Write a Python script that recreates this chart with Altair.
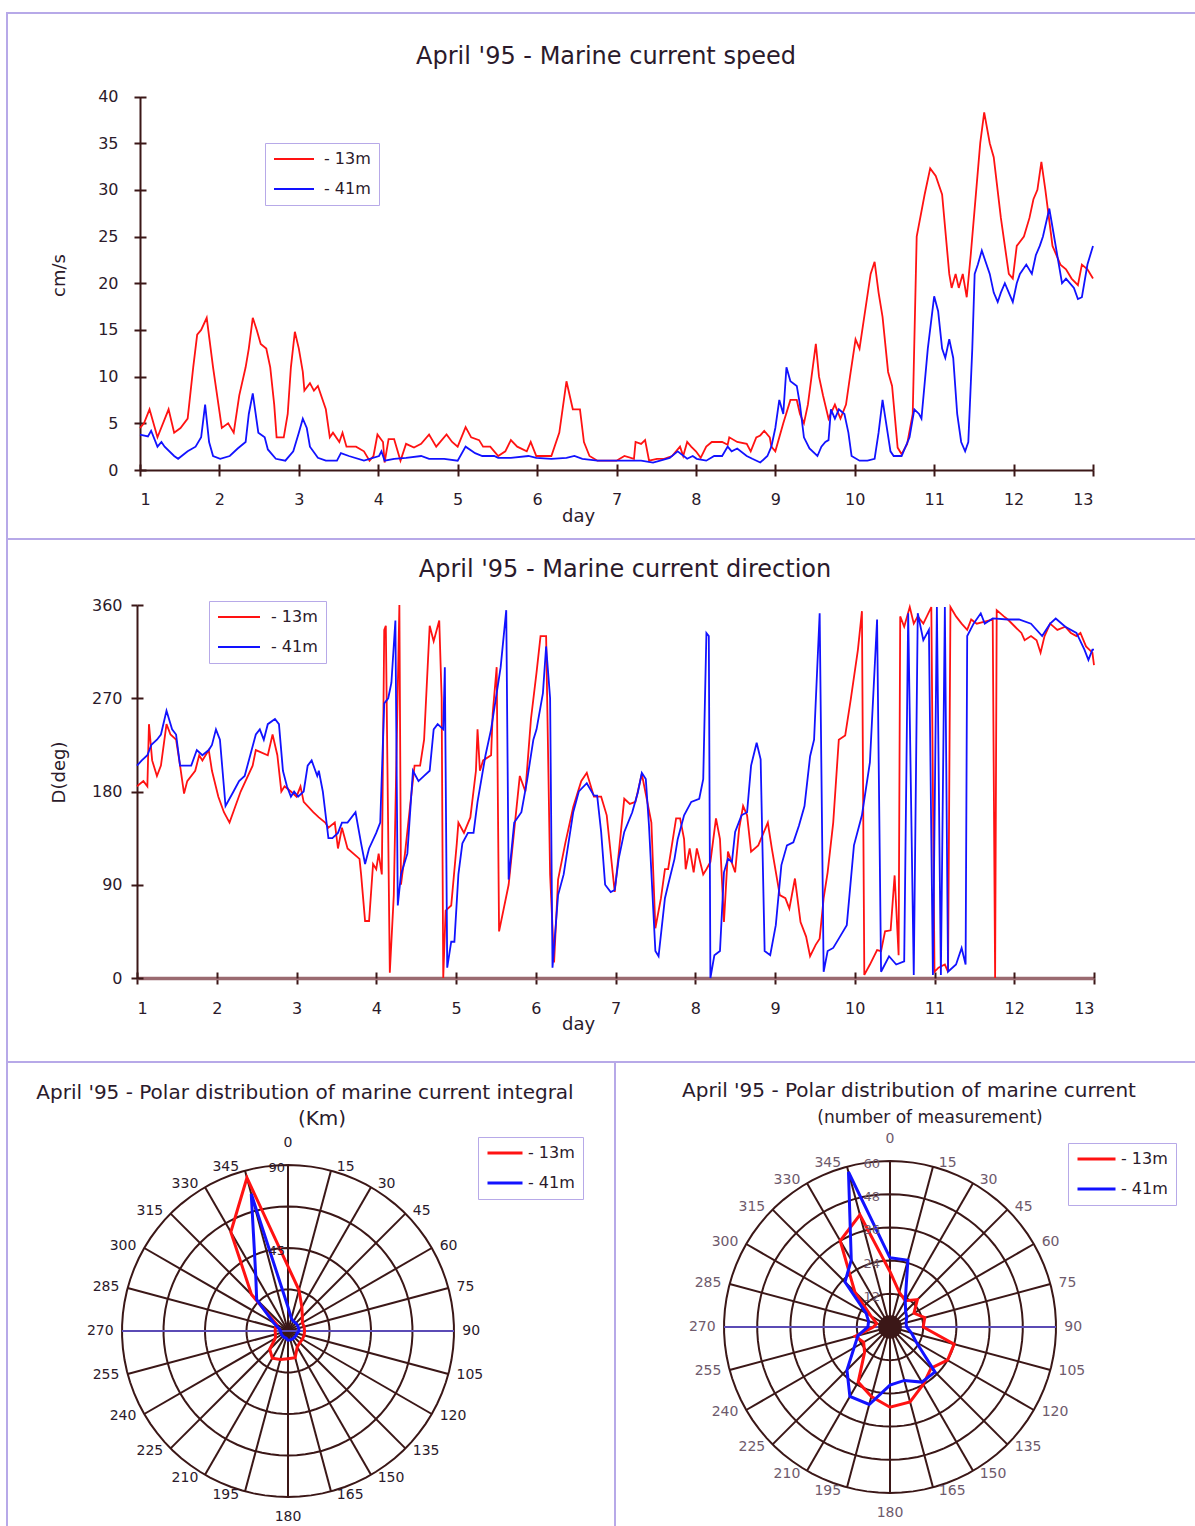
import math
import altair as alt
import pandas as pd

W, H = 1195, 1526
FONT = "DejaVu Sans"
RED, BLUE = "#ff1212", "#1212ff"
INK = "#2b1a2b"
SOFT_INK = "#6e5a6c"
GRID = "#3b1717"
AXIS_BAND = "#9a6a70"
FRAME = "#b7a9e8"
HORIZON = "#5b4bb5"
SERIES = ["- 13m", "- 41m"]

# ---------------- current speed (cm/s) ----------------
SPEED_13M_DAY = [1.00, 1.05, 1.12, 1.17, 1.22, 1.36, 1.43, 1.51, 1.60, 1.67,
                 1.72, 1.77, 1.84, 1.92, 2.03, 2.11, 2.18, 2.25, 2.33, 2.37,
                 2.42, 2.47, 2.52, 2.59, 2.64, 2.69, 2.72, 2.81, 2.86, 2.90,
                 2.95, 3.00, 3.05, 3.07, 3.14, 3.19, 3.24, 3.34, 3.39, 3.43,
                 3.51, 3.55, 3.60, 3.72, 3.82, 3.89, 3.94, 3.99, 4.06, 4.08,
                 4.13, 4.20, 4.28, 4.35, 4.45, 4.54, 4.64, 4.73, 4.86, 4.93,
                 5.00, 5.10, 5.17, 5.27, 5.32, 5.41, 5.46, 5.51, 5.60, 5.67,
                 5.75, 5.87, 5.92, 5.99, 6.08, 6.18, 6.28, 6.37, 6.45, 6.54,
                 6.59, 6.66, 6.76, 7.00, 7.10, 7.22, 7.24, 7.31, 7.36, 7.41,
                 7.51, 7.60, 7.70, 7.80, 7.84, 7.89, 7.94, 8.00, 8.06, 8.13,
                 8.20, 8.33, 8.40, 8.42, 8.52, 8.64, 8.69, 8.76, 8.81, 8.86,
                 8.93, 8.95, 9.00, 9.10, 9.19, 9.27, 9.31, 9.36, 9.41, 9.51,
                 9.55, 9.60, 9.67, 9.75, 9.82, 9.89, 9.94, 10.01, 10.06, 10.20,
                 10.25, 10.30, 10.35, 10.42, 10.47, 10.54, 10.59, 10.66, 10.73, 10.78,
                 10.88, 10.95, 11.02, 11.10, 11.19, 11.22, 11.27, 11.31, 11.36, 11.41,
                 11.46, 11.51, 11.58, 11.63, 11.70, 11.75, 11.84, 11.94, 11.99, 12.04,
                 12.13, 12.20, 12.25, 12.30, 12.35, 12.40, 12.49, 12.59, 12.66, 12.73,
                 12.81, 12.86, 12.93, 13.00]
SPEED_13M = [4.5, 5.0, 6.5, 5.0, 3.5, 6.5, 4.0, 4.5, 5.5, 11.0,
             14.5, 15.0, 16.3, 11.0, 4.5, 5.0, 4.0, 8.0, 11.0, 13.0,
             16.3, 15.0, 13.5, 13.0, 11.0, 7.0, 3.5, 3.5, 6.0, 11.0,
             14.8, 13.0, 10.5, 8.5, 9.3, 8.5, 9.0, 6.5, 3.5, 4.0,
             3.0, 4.0, 2.5, 2.5, 2.0, 1.0, 1.5, 3.8, 3.0, 0.8,
             3.3, 3.3, 1.0, 2.8, 2.4, 2.8, 3.8, 2.5, 3.8, 3.0,
             2.5, 4.6, 3.5, 3.2, 2.5, 2.5, 2.0, 1.5, 2.0, 3.2,
             2.5, 2.0, 3.0, 1.5, 1.5, 1.5, 4.0, 9.5, 6.5, 6.5,
             3.0, 1.5, 1.0, 1.0, 1.5, 1.2, 3.0, 2.8, 3.2, 1.0,
             1.2, 1.2, 1.5, 2.5, 1.5, 3.0, 2.5, 2.0, 1.3, 2.5,
             3.0, 3.0, 2.7, 3.5, 3.0, 2.8, 2.0, 3.5, 3.7, 4.2,
             3.5, 2.5, 2.0, 5.0, 7.5, 7.5, 6.0, 5.0, 7.0, 13.5,
             10.0, 8.0, 5.5, 7.0, 5.5, 7.0, 10.0, 14.0, 13.0, 21.0,
             22.3, 19.0, 16.4, 10.5, 9.0, 2.4, 1.7, 2.8, 6.0, 25.0,
             29.5, 32.3, 31.5, 29.5, 21.0, 19.5, 21.0, 19.5, 21.0, 18.5,
             23.0, 28.0, 35.0, 38.3, 35.0, 33.5, 27.0, 21.0, 20.5, 24.0,
             25.0, 27.0, 29.0, 30.0, 33.0, 30.0, 24.0, 22.0, 21.5, 20.5,
             19.8, 22.0, 21.5, 20.5]

SPEED_41M_DAY = [1.00, 1.10, 1.14, 1.22, 1.27, 1.31, 1.43, 1.48, 1.60, 1.70,
                 1.77, 1.82, 1.87, 1.92, 2.01, 2.13, 2.23, 2.33, 2.37, 2.42,
                 2.49, 2.57, 2.61, 2.71, 2.83, 2.93, 3.00, 3.05, 3.10, 3.14,
                 3.24, 3.34, 3.48, 3.53, 3.63, 3.82, 4.01, 4.04, 4.08, 4.20,
                 4.35, 4.54, 4.64, 4.83, 5.00, 5.10, 5.22, 5.31, 5.46, 5.51,
                 5.67, 5.89, 5.99, 6.18, 6.37, 6.47, 6.57, 6.76, 7.00, 7.31,
                 7.46, 7.55, 7.67, 7.77, 7.89, 7.96, 8.01, 8.13, 8.23, 8.33,
                 8.40, 8.45, 8.52, 8.64, 8.71, 8.81, 8.90, 8.95, 9.00, 9.05,
                 9.10, 9.14, 9.19, 9.27, 9.31, 9.36, 9.43, 9.53, 9.58, 9.63,
                 9.67, 9.70, 9.75, 9.80, 9.87, 9.92, 9.96, 10.06, 10.16, 10.25,
                 10.30, 10.35, 10.45, 10.49, 10.59, 10.69, 10.75, 10.81, 10.84, 10.92,
                 11.00, 11.05, 11.10, 11.14, 11.19, 11.24, 11.29, 11.34, 11.39, 11.43,
                 11.48, 11.51, 11.55, 11.60, 11.70, 11.75, 11.80, 11.84, 11.89, 11.94,
                 11.99, 12.04, 12.08, 12.16, 12.23, 12.28, 12.33, 12.37, 12.45, 12.49,
                 12.57, 12.61, 12.66, 12.76, 12.81, 12.86, 12.93, 13.00]
SPEED_41M = [3.8, 3.6, 4.2, 2.5, 3.0, 2.5, 1.5, 1.2, 2.0, 2.5,
             3.5, 7.0, 3.0, 1.5, 1.2, 1.5, 2.3, 3.0, 6.0, 8.2,
             4.0, 3.5, 2.2, 1.2, 1.0, 2.0, 4.0, 5.5, 4.5, 2.5,
             1.3, 1.0, 1.0, 1.8, 1.5, 1.0, 1.5, 2.0, 1.0, 1.2,
             1.3, 1.5, 1.2, 1.2, 1.0, 2.5, 1.8, 1.5, 1.5, 1.3,
             1.3, 1.5, 1.3, 1.2, 1.3, 1.5, 1.2, 1.0, 1.0, 1.0,
             0.8, 1.0, 1.3, 2.0, 1.2, 1.5, 1.2, 1.0, 1.5, 1.5,
             2.5, 2.0, 2.3, 1.5, 1.2, 0.8, 1.5, 2.5, 4.5, 7.5,
             6.0, 11.0, 9.5, 9.0, 7.0, 3.5, 2.3, 1.5, 2.5, 3.0,
             3.2, 6.5, 5.5, 6.5, 6.0, 4.0, 1.5, 1.0, 1.0, 1.2,
             4.0, 7.5, 2.0, 1.5, 1.5, 3.5, 6.5, 6.0, 5.5, 13.0,
             18.6, 17.0, 13.0, 12.0, 14.0, 12.0, 6.0, 3.0, 2.0, 3.0,
             13.0, 21.0, 22.0, 23.5, 21.0, 19.0, 18.0, 19.0, 20.0, 19.0,
             18.0, 20.0, 21.0, 22.0, 21.0, 23.0, 24.0, 25.0, 28.0, 26.0,
             22.0, 20.0, 20.5, 19.5, 18.3, 18.5, 22.0, 24.0]

# ---------------- current direction (deg), (day, direction) ----------------
DIR_13M = [(1.00, 185), (1.08, 190), (1.13, 185), (1.15, 245), (1.19, 210), (1.25, 195),
           (1.30, 205), (1.37, 245), (1.42, 235), (1.49, 230), (1.54, 205), (1.59, 178),
           (1.63, 190), (1.73, 200), (1.78, 215), (1.82, 210), (1.90, 220), (1.94, 200),
           (2.02, 175), (2.09, 160), (2.16, 150), (2.23, 165), (2.30, 180), (2.45, 205),
           (2.49, 220), (2.64, 215), (2.70, 235), (2.76, 215), (2.81, 180), (2.85, 185),
           (2.93, 180), (3.00, 175), (3.05, 185), (3.09, 170), (3.21, 160), (3.28, 155),
           (3.36, 150), (3.40, 145), (3.48, 150), (3.52, 125), (3.57, 145), (3.64, 125),
           (3.79, 115), (3.81, 100), (3.86, 55), (3.91, 55), (3.96, 110), (4.00, 105),
           (4.03, 120), (4.07, 100), (4.10, 336), (4.12, 340), (4.17, 5), (4.22, 80),
           (4.29, 360), (4.31, 90), (4.36, 120), (4.43, 170), (4.48, 205), (4.55, 205),
           (4.60, 230), (4.67, 340), (4.72, 325), (4.79, 345), (4.82, 270), (4.84, 0),
           (4.87, 65), (4.94, 70), (5.01, 130), (5.03, 150), (5.10, 140), (5.18, 155),
           (5.25, 200), (5.27, 240), (5.30, 200), (5.34, 210), (5.44, 215), (5.46, 255),
           (5.51, 300), (5.54, 45), (5.66, 90), (5.70, 120), (5.80, 195), (5.87, 180),
           (5.94, 250), (6.01, 295), (6.06, 330), (6.13, 330), (6.18, 100), (6.23, 15),
           (6.28, 95), (6.37, 130), (6.47, 165), (6.57, 190), (6.64, 198), (6.73, 175),
           (6.82, 175), (6.89, 157), (6.99, 83), (7.04, 120), (7.11, 173), (7.18, 168),
           (7.25, 170), (7.33, 197), (7.45, 150), (7.50, 48), (7.57, 77), (7.62, 105),
           (7.66, 105), (7.76, 154), (7.81, 154), (7.86, 134), (7.88, 105), (7.93, 125),
           (7.98, 102), (8.02, 125), (8.10, 100), (8.14, 105), (8.19, 112), (8.26, 154),
           (8.31, 134), (8.36, 54), (8.41, 122), (8.50, 102), (8.55, 144), (8.60, 166),
           (8.65, 157), (8.70, 122), (8.79, 128), (8.91, 150), (8.96, 125), (9.06, 80),
           (9.13, 77), (9.18, 67), (9.25, 96), (9.32, 54), (9.39, 40), (9.44, 21),
           (9.51, 32), (9.56, 38), (9.61, 77), (9.66, 102), (9.73, 150), (9.80, 230),
           (9.88, 234), (9.95, 269), (10.04, 317), (10.09, 354), (10.12, 3), (10.19, 13),
           (10.28, 27), (10.33, 26), (10.38, 45), (10.45, 46), (10.50, 99), (10.55, 22),
           (10.57, 349), (10.62, 339), (10.69, 358), (10.74, 342), (10.79, 349), (10.86, 342),
           (10.96, 358), (11.00, 6), (11.05, 10), (11.13, 13), (11.17, 6), (11.20, 358),
           (11.27, 349), (11.34, 342), (11.41, 336), (11.46, 346), (11.53, 342), (11.63, 344),
           (11.73, 346), (11.76, 0), (11.78, 355), (11.87, 349), (11.92, 346), (12.01, 339),
           (12.09, 333), (12.13, 326), (12.21, 330), (12.28, 326), (12.33, 314), (12.38, 330),
           (12.45, 342), (12.54, 336), (12.64, 339), (12.71, 333), (12.78, 330), (12.83, 333),
           (12.90, 320), (12.98, 314), (13.00, 302)]

DIR_41M = [(1.00, 205), (1.06, 210), (1.13, 215), (1.18, 225), (1.25, 230), (1.30, 235),
           (1.37, 258), (1.44, 240), (1.49, 235), (1.54, 205), (1.68, 205), (1.75, 220),
           (1.82, 215), (1.90, 220), (1.94, 225), (1.99, 240), (2.04, 230), (2.11, 166),
           (2.21, 180), (2.28, 190), (2.35, 195), (2.42, 215), (2.49, 235), (2.54, 240),
           (2.59, 230), (2.64, 245), (2.73, 250), (2.78, 245), (2.83, 200), (2.88, 185),
           (2.93, 175), (2.97, 180), (3.02, 175), (3.09, 180), (3.14, 205), (3.19, 210),
           (3.26, 195), (3.28, 200), (3.33, 180), (3.40, 135), (3.45, 135), (3.52, 140),
           (3.57, 150), (3.64, 150), (3.74, 160), (3.81, 130), (3.86, 110), (3.91, 125),
           (4.00, 140), (4.05, 150), (4.10, 265), (4.15, 270), (4.19, 285), (4.24, 345),
           (4.27, 70), (4.31, 100), (4.39, 120), (4.46, 200), (4.53, 190), (4.60, 195),
           (4.67, 200), (4.72, 240), (4.77, 245), (4.84, 240), (4.86, 300), (4.89, 10),
           (4.94, 35), (4.98, 35), (5.03, 100), (5.08, 130), (5.15, 140), (5.22, 140),
           (5.27, 170), (5.37, 215), (5.44, 240), (5.51, 275), (5.54, 290), (5.56, 300),
           (5.63, 355), (5.66, 95), (5.73, 150), (5.82, 160), (5.89, 190), (5.97, 230),
           (6.01, 240), (6.09, 275), (6.13, 320), (6.18, 270), (6.21, 10), (6.28, 80),
           (6.35, 100), (6.47, 160), (6.54, 180), (6.64, 188), (6.73, 176), (6.77, 176),
           (6.82, 141), (6.87, 90), (6.94, 83), (6.99, 85), (7.04, 115), (7.11, 141),
           (7.21, 160), (7.28, 179), (7.33, 198), (7.38, 192), (7.42, 147), (7.50, 26),
           (7.54, 21), (7.62, 77), (7.66, 90), (7.74, 115), (7.78, 134), (7.86, 157),
           (7.95, 170), (8.05, 173), (8.10, 192), (8.14, 333), (8.17, 330), (8.19, 0),
           (8.24, 22), (8.31, 26), (8.36, 102), (8.41, 115), (8.46, 112), (8.50, 141),
           (8.58, 157), (8.65, 160), (8.70, 205), (8.77, 227), (8.82, 211), (8.87, 26),
           (8.94, 22), (9.01, 51), (9.08, 109), (9.15, 128), (9.23, 131), (9.30, 147),
           (9.37, 166), (9.44, 214), (9.49, 230), (9.56, 352), (9.61, 6), (9.66, 26),
           (9.73, 29), (9.80, 38), (9.90, 51), (9.99, 128), (10.09, 157), (10.19, 208),
           (10.28, 346), (10.33, 6), (10.43, 21), (10.52, 13), (10.62, 16), (10.67, 352),
           (10.74, 3), (10.79, 352), (10.86, 326), (10.93, 336), (10.98, 3), (11.03, 358),
           (11.08, 3), (11.13, 358), (11.17, 6), (11.27, 13), (11.34, 29), (11.39, 13),
           (11.41, 330), (11.49, 342), (11.58, 352), (11.63, 342), (11.73, 347), (11.92, 346),
           (12.06, 346), (12.21, 342), (12.35, 330), (12.45, 342), (12.52, 347), (12.64, 339),
           (12.78, 333), (12.88, 317), (12.93, 307), (12.98, 317), (13.00, 317)]

# ---------------- polar distributions, one value per 15° sector ----------------
SECTORS = list(range(0, 360, 15))
INTEGRAL_13M = [35, 23, 15, 11, 9, 9, 9, 9, 9, 9, 10, 15,
                15, 16, 17, 14, 8, 7, 7, 7, 7, 28, 62, 86]
INTEGRAL_41M = [13, 7, 6, 6, 6, 6, 6, 5, 5, 5, 5, 5,
                5, 4, 4, 4, 4, 4, 4, 5, 9, 24, 35, 77]
COUNT_13M = [20, 13, 11, 14, 10, 13, 12, 24, 24, 21, 24, 28,
             29, 26, 23, 13, 11, 13, 6, 5, 8, 18, 36, 42]
COUNT_41M = [25, 25, 11, 8, 7, 6, 6, 8, 11, 23, 23, 20,
             21, 29, 29, 22, 15, 12, 8, 8, 10, 23, 28, 58]
INTEGRAL_RINGS = [22.5, 45, 67.5, 90]
INTEGRAL_RING_LABELS = ["45", "90"]
COUNT_RINGS = [12, 24, 36, 48, 60]
COUNT_RING_LABELS = ["12", "24", "36", "48", "60"]

TITLES = {
    "speed": "April '95 - Marine current speed",
    "direction": "April '95 - Marine current direction",
    "integral": "April '95 - Polar distribution of marine current integral",
    "integral_unit": "(Km)",
    "count": "April '95 - Polar distribution of marine current",
    "count_unit": "(number of measurement)",
}

AXIS_STYLE = dict(grid=False, labelFont=FONT, labelFontSize=16, labelColor=INK,
                  tickColor=GRID, tickWidth=2, tickSize=6, domainColor=GRID, domainWidth=2,
                  titleFont=FONT, titleFontSize=18, titleFontWeight="normal", titleColor=INK)
# ticks only, drawn on the inner side of the same axis lines so they cross them
INNER_TICKS = dict(grid=False, labels=False, domain=False, title="", tickColor=GRID,
                   tickWidth=2, tickSize=6)


def color_enc(legend):
    return alt.Color("series:N", scale=alt.Scale(domain=SERIES, range=[RED, BLUE]), legend=legend)


def series_legend(x, y, length, width, offset):
    return alt.Legend(orient="none", legendX=x, legendY=y, title=None, strokeColor=FRAME,
                      fillColor="white", padding=8, symbolType="stroke",
                      symbolSize=length * length, symbolStrokeWidth=width, clipHeight=16,
                      rowPadding=14, labelFont=FONT, labelFontSize=16, labelColor=INK,
                      labelOffset=offset)


def series_frame(named):
    rows = []
    for name, days, vals in named:
        for k, (d, v) in enumerate(zip(days, vals)):
            rows.append({"series": name, "day": d, "value": v, "k": k})
    return pd.DataFrame(rows)


speed_df = series_frame([("- 13m", SPEED_13M_DAY, SPEED_13M),
                         ("- 41m", SPEED_41M_DAY, SPEED_41M)])
dir_df = series_frame([("- 13m", [d for d, _ in DIR_13M], [v for _, v in DIR_13M]),
                       ("- 41m", [d for d, _ in DIR_41M], [v for _, v in DIR_41M])])


def time_panel(df, x_range, y_domain, y_range, y_values, y_title, y_title_pos,
               x_label_pad, y_label_pad, x_domain_style, legend):
    x_scale = alt.Scale(domain=[1, 13], range=x_range, zero=False, nice=False)
    y_scale = alt.Scale(domain=y_domain, range=y_range, zero=False, nice=False)
    days = list(range(1, 14))
    x_axis = alt.Axis(orient="bottom", offset=y_range[0] - H, values=days,
                      labelPadding=x_label_pad, title="day", titleX=578, titleY=46,
                      titleAngle=0, titleAlign="center", titleBaseline="middle",
                      **{**AXIS_STYLE, **x_domain_style})
    y_axis = alt.Axis(orient="left", offset=-x_range[0], values=y_values,
                      labelPadding=y_label_pad, title=y_title,
                      titleX=y_title_pos[0] - x_range[0], titleY=y_title_pos[1],
                      titleAngle=270, titleAlign="center", titleBaseline="middle", **AXIS_STYLE)
    lines = alt.Chart(df).mark_line(strokeWidth=1.8).encode(
        x=alt.X("day:Q", scale=x_scale, axis=x_axis),
        y=alt.Y("value:Q", scale=y_scale, axis=y_axis),
        color=color_enc(legend),
        order="k:Q",
    )
    inner = alt.Chart(df).mark_point(opacity=0).encode(
        x=alt.X("day:Q", scale=x_scale,
                axis=alt.Axis(orient="top", offset=-y_range[0], values=days, **INNER_TICKS)),
        y=alt.Y("value:Q", scale=y_scale,
                axis=alt.Axis(orient="right", offset=x_range[0] - W, values=y_values,
                              **INNER_TICKS)),
    )
    return [lines, inner]


speed_layers = time_panel(speed_df, [140, 1093], [0, 40], [470, 96.5], list(range(0, 41, 5)),
                          "cm/s", (59, 275), 15, 16, {},
                          series_legend(265, 143, 40, 1.8, 9))
direction_layers = time_panel(dir_df, [137, 1094], [0, 360], [978, 605], [0, 90, 180, 270, 360],
                              "D(deg)", (59, 772), 16, 9,
                              {"domainColor": AXIS_BAND, "domainWidth": 3.5},
                              series_legend(209, 601, 42, 1.8, 10))


def polar(v, a):
    t = math.radians(a)
    return v * math.sin(t), v * math.cos(t)


def polar_layers(cx, cy, radius, rings, ring_labels, red_vals, blue_vals, legend,
                 label_color, ring_label_dx, center_disc):
    rmax = rings[-1]
    sx = alt.Scale(domain=[-rmax, rmax], range=[cx - radius, cx + radius], zero=False, nice=False)
    sy = alt.Scale(domain=[-rmax, rmax], range=[cy + radius, cy - radius], zero=False, nice=False)

    def xy(fx="x", fy="y"):
        return dict(x=alt.X(f"{fx}:Q", scale=sx, axis=None),
                    y=alt.Y(f"{fy}:Q", scale=sy, axis=None))

    ring_rows = []
    for r in rings:
        for k, a in enumerate(range(0, 361, 4)):
            x, y = polar(r, a)
            ring_rows.append({"ring": r, "k": k, "x": x, "y": y})
    spoke_rows = []
    for a in SECTORS:
        if a in (90, 270):
            continue
        x2, y2 = polar(rmax, a)
        spoke_rows.append({"x": 0.0, "y": 0.0, "x2": x2, "y2": y2})
    horizon = pd.DataFrame([{"x": -rmax, "y": 0.0, "x2": rmax, "y2": 0.0}])

    poly_rows = []
    for name, vals in (("- 13m", red_vals), ("- 41m", blue_vals)):
        for k, a in enumerate(SECTORS + [SECTORS[0]]):
            x, y = polar(vals[k % len(SECTORS)], a)
            poly_rows.append({"series": name, "k": k, "x": x, "y": y})

    label_rows = []
    for a in SECTORS:
        x, y = polar(rmax * 1.02, a)
        side = "top" if a == 0 else "bottom" if a == 180 else "right" if a < 180 else "left"
        label_rows.append({"label": str(a), "side": side, "x": x, "y": y})
    labels = pd.DataFrame(label_rows)

    ring_lab = pd.DataFrame({"label": ring_labels,
                             "x": [0.0] * len(ring_labels),
                             "y": [float(s) for s in ring_labels]})

    layers = [
        alt.Chart(pd.DataFrame(ring_rows)).mark_line(color=GRID, strokeWidth=2).encode(
            **xy(), detail="ring:N", order="k:Q"),
        alt.Chart(pd.DataFrame(spoke_rows)).mark_rule(color=GRID, strokeWidth=2).encode(
            **xy(), x2="x2:Q", y2="y2:Q"),
        alt.Chart(horizon).mark_rule(color=HORIZON, strokeWidth=2).encode(
            **xy(), x2="x2:Q", y2="y2:Q"),
    ]
    if center_disc:
        layers.append(alt.Chart(pd.DataFrame({"x": [0.0], "y": [0.0]})).mark_circle(
            size=560, color=GRID, opacity=1).encode(**xy()))
    layers.append(alt.Chart(pd.DataFrame(poly_rows)).mark_line(strokeWidth=3).encode(
        **xy(), color=color_enc(legend), order="k:Q"))
    text_style = dict(font=FONT, fontSize=14, color=label_color)
    placements = {
        "right": dict(align="left", baseline="middle", dx=5),
        "left": dict(align="right", baseline="middle", dx=-5),
        "top": dict(align="center", baseline="bottom", dy=-12),
        "bottom": dict(align="center", baseline="top", dy=10),
    }
    for side, opts in placements.items():
        layers.append(alt.Chart(labels[labels["side"] == side]).mark_text(
            **text_style, **opts).encode(**xy(), text="label:N"))
    layers.append(alt.Chart(ring_lab).mark_text(
        font=FONT, fontSize=13, color=label_color, align="right", baseline="middle",
        dx=ring_label_dx, dy=3).encode(**xy(), text="label:N"))
    return layers


integral_layers = polar_layers(288, 1331, 166, INTEGRAL_RINGS, INTEGRAL_RING_LABELS,
                               INTEGRAL_13M, INTEGRAL_41M,
                               series_legend(478, 1137, 35, 3, 4), INK, -3, False)
count_layers = polar_layers(890, 1327, 166, COUNT_RINGS, COUNT_RING_LABELS,
                            COUNT_13M, COUNT_41M,
                            series_legend(1068, 1143, 38, 3, 4), SOFT_INK, -10, True)

# panel frames
frame_boxes = [(7, 13, 1198, 539), (7, 539, 1198, 1062), (7, 1062, 615, 1530), (615, 1062, 1198, 1530)]
one_row = pd.DataFrame({"one": [1]})
frames = [
    alt.Chart(one_row).mark_rect(fill="white", fillOpacity=0, stroke=FRAME, strokeWidth=2).encode(
        x=alt.value(x0), x2=alt.value(x1), y=alt.value(y0), y2=alt.value(y1))
    for x0, y0, x1, y1 in frame_boxes
]


def title_text(key, x, y, size):
    return alt.Chart(pd.DataFrame({"label": [TITLES[key]]})).mark_text(
        font=FONT, fontSize=size, color=INK, align="center", baseline="middle").encode(
        x=alt.value(x), y=alt.value(y), text="label:N")


titles = [
    title_text("speed", 606, 57, 24),
    title_text("direction", 625, 570, 24),
    title_text("integral", 305, 1093, 20),
    title_text("integral_unit", 322, 1119, 20),
    title_text("count", 909, 1091, 20),
    title_text("count_unit", 930, 1118, 17),
]

chart = alt.layer(
    *frames, *titles, *speed_layers, *direction_layers, *integral_layers, *count_layers
).resolve_scale(
    x="independent", y="independent", color="independent"
).resolve_legend(
    color="independent"
).properties(
    width=W, height=H, padding=0, background="white",
    autosize=alt.AutoSizeParams(type="none"),
).configure_view(strokeWidth=0)

chart.save("out.html", embed_options={"renderer": "svg", "actions": False})
